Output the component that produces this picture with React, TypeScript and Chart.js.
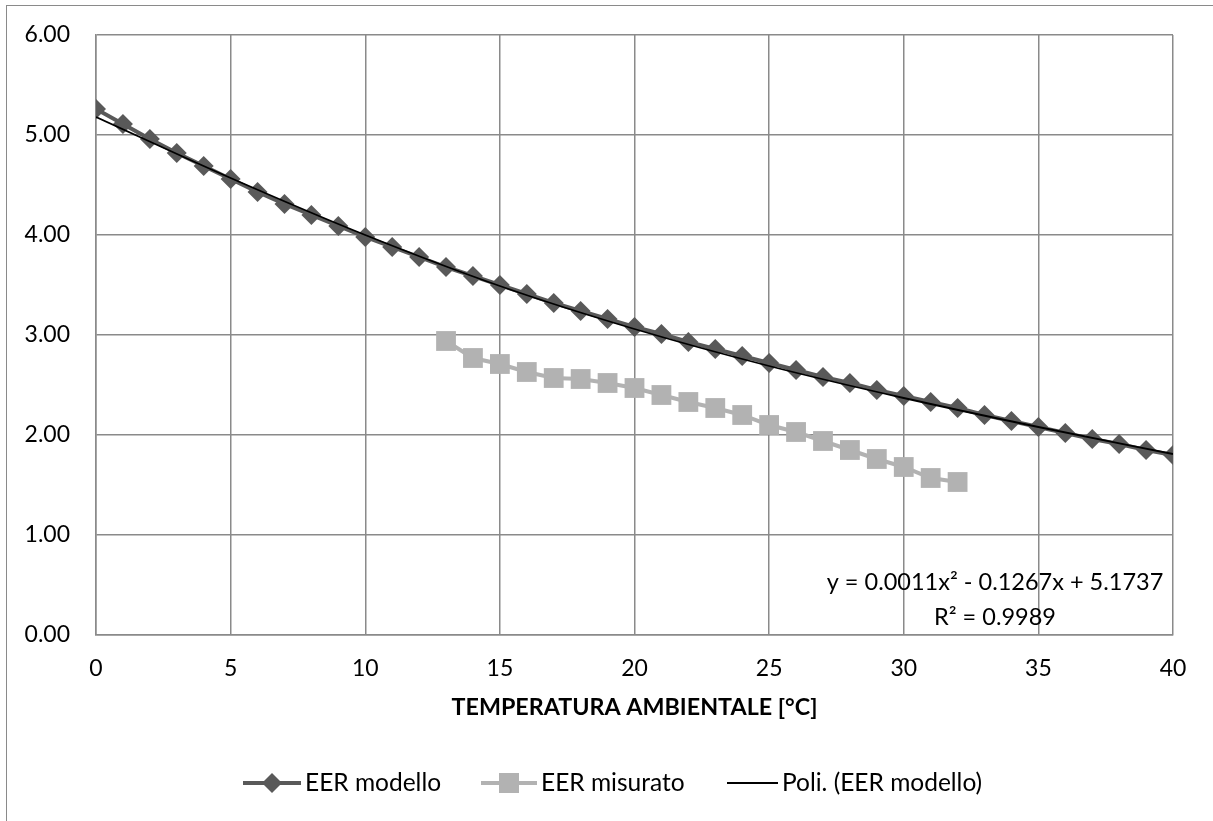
import React, { useEffect, useRef } from "react";
import { Chart, registerables } from "chart.js";

Chart.register(...registerables);

// ---- Data ----
const modelloX = [0, 1, 2, 3, 4, 5, 6, 7, 8, 9, 10, 11, 12, 13, 14, 15, 16, 17, 18, 19, 20, 21, 22, 23, 24, 25, 26, 27, 28, 29, 30, 31, 32, 33, 34, 35, 36, 37, 38, 39, 40];
const modelloY = [5.26, 5.11, 4.96, 4.82, 4.69, 4.56, 4.43, 4.31, 4.2, 4.09, 3.98, 3.88, 3.78, 3.68, 3.59, 3.5, 3.41, 3.32, 3.24, 3.16, 3.08, 3.01, 2.93, 2.86, 2.79, 2.72, 2.65, 2.58, 2.52, 2.45, 2.39, 2.33, 2.27, 2.2, 2.14, 2.08, 2.02, 1.96, 1.91, 1.85, 1.8];

const misuratoX = [13, 14, 15, 16, 17, 18, 19, 20, 21, 22, 23, 24, 25, 26, 27, 28, 29, 30, 31, 32];
const misuratoY = [2.94, 2.77, 2.71, 2.63, 2.57, 2.56, 2.52, 2.47, 2.4, 2.33, 2.27, 2.2, 2.1, 2.03, 1.94, 1.85, 1.76, 1.68, 1.57, 1.53];

const trendX = [0, 5, 10, 15, 20, 25, 30, 35, 40];
const trendY = [5.18, 4.57, 4.0, 3.49, 3.06, 2.69, 2.37, 2.08, 1.81];

const legendLabels = ["EER modello", "EER misurato", "Poli. (EER modello)"];
const equationLines = ["y = 0.0011x² - 0.1267x + 5.1737", "R² = 0.9989"];
const xAxisTitle = "TEMPERATURA AMBIENTALE [°C]";

const xMin = 0;
const xMax = 40;
const xStep = 5;
const yMin = 0;
const yMax = 6;
const yStep = 1;

// ---- Styles ----
const FONT = "Lato, 'Open Sans', sans-serif";
const GRID = "#8a8a8a";
const C_MODELLO = "#595959";
const C_MISURATO = "#b2b2b2";
const C_TREND = "#000000";

const W = 1213;
const H = 821;

const extrasPlugin = {
  id: "extras",
  afterDraw(chart: any) {
    const ctx = chart.ctx;
    const area = chart.chartArea;
    ctx.save();
    // equation label
    ctx.fillStyle = "#000";
    ctx.font = `23.5px ${FONT}`;
    ctx.textAlign = "center";
    ctx.textBaseline = "middle";
    const cx = area.right - 178;
    ctx.fillText(equationLines[0], cx, area.bottom - 53);
    ctx.fillText(equationLines[1], cx, area.bottom - 18);

    // legend
    const ly = chart.height - 38;
    const items = [
      { x0: 243, x1: 301, color: C_MODELLO, width: 4, marker: "diamond", label: legendLabels[0] },
      { x0: 481, x1: 537, color: C_MISURATO, width: 4, marker: "square", label: legendLabels[1] },
      { x0: 727, x1: 778, color: C_TREND, width: 1.8, marker: "none", label: legendLabels[2] },
    ];
    for (const it of items) {
      ctx.strokeStyle = it.color;
      ctx.lineWidth = it.width;
      ctx.beginPath();
      ctx.moveTo(it.x0, ly);
      ctx.lineTo(it.x1, ly);
      ctx.stroke();
      const mx = (it.x0 + it.x1) / 2;
      ctx.fillStyle = it.color;
      if (it.marker === "diamond") {
        const r = 10;
        ctx.beginPath();
        ctx.moveTo(mx - r, ly);
        ctx.lineTo(mx, ly - r);
        ctx.lineTo(mx + r, ly);
        ctx.lineTo(mx, ly + r);
        ctx.closePath();
        ctx.fill();
      } else if (it.marker === "square") {
        const s = 10;
        ctx.fillRect(mx - s, ly - s, 2 * s, 2 * s);
      }
      ctx.fillStyle = "#000";
      ctx.textAlign = "left";
      ctx.textBaseline = "middle";
      ctx.font = `24.5px ${FONT}`;
      ctx.fillText(it.label, it.x1 + 4, ly);
    }
    ctx.restore();
  },
};

export default function App() {
  const canvasRef = useRef<HTMLCanvasElement | null>(null);

  useEffect(() => {
    if (!canvasRef.current) return;
    const modello = modelloX.map((x, i) => ({ x, y: modelloY[i] }));
    const misurato = misuratoX.map((x, i) => ({ x, y: misuratoY[i] }));
    const trend = trendX.map((x, i) => ({ x, y: trendY[i] }));

    const chart = new Chart(canvasRef.current, {
      type: "line",
      data: {
        datasets: [
          {
            label: legendLabels[2],
            data: trend,
            borderColor: C_TREND,
            borderWidth: 1.8,
            pointRadius: 0,
            cubicInterpolationMode: "monotone",
            fill: false,
            order: 0,
          },
          {
            label: legendLabels[1],
            data: misurato,
            borderColor: C_MISURATO,
            backgroundColor: C_MISURATO,
            borderWidth: 4,
            pointStyle: "rect",
            pointRadius: 14,
            pointBorderWidth: 0,
            fill: false,
            order: 1,
          },
          {
            label: legendLabels[0],
            data: modello,
            borderColor: C_MODELLO,
            backgroundColor: C_MODELLO,
            borderWidth: 4,
            pointStyle: "rectRot",
            pointRadius: 10,
            pointBorderWidth: 0,
            fill: false,
            order: 2,
          },
        ],
      },
      options: {
        responsive: false,
        animation: false,
        parsing: false as any,
        layout: { padding: { left: 0, right: 40, top: 35, bottom: 100 } },
        plugins: {
          legend: { display: false },
          tooltip: { enabled: false },
          title: { display: false },
        },
        font: { family: FONT } as any,
        scales: {
          x: {
            type: "linear",
            min: xMin,
            max: xMax,
            afterFit: (s: any) => {
              s.height = 86;
            },
            ticks: {
              stepSize: xStep,
              color: "#000",
              padding: 20,
              maxRotation: 0,
              font: { family: FONT, size: 23 },
            },
            grid: { color: GRID, lineWidth: 1.5, drawTicks: false },
            border: { color: GRID, width: 1.5 },
            title: {
              display: true,
              text: xAxisTitle,
              color: "#000",
              font: { family: FONT, size: 23.3, weight: "bold" },
              padding: { top: 0, bottom: 0 },
            },
          },
          y: {
            type: "linear",
            min: yMin,
            max: yMax,
            afterFit: (s: any) => {
              s.width = 96;
            },
            ticks: {
              stepSize: yStep,
              color: "#000",
              padding: 0,
              font: { family: FONT, size: 23 },
              callback: (v: any) => Number(v).toFixed(2),
            },
            grid: {
              color: GRID,
              lineWidth: 1.5,
              drawTicks: true,
              tickLength: 26,
              tickColor: "rgba(0,0,0,0)",
            },
            border: { color: GRID, width: 1.5 },
          },
        },
      },
      plugins: [extrasPlugin],
    });
    return () => chart.destroy();
  }, []);

  return (
    <div
      style={{
        position: "absolute",
        left: 0,
        top: 0,
        width: W,
        height: H,
        background: "#fff",
        overflow: "hidden",
      }}
    >
      <div
        style={{
          position: "absolute",
          left: 6,
          top: 5,
          width: W + 20,
          height: H + 20,
          border: "1.5px solid #8a8a8a",
        }}
      />
      <canvas
        ref={canvasRef}
        width={W}
        height={H}
        style={{ position: "absolute", left: 0, top: 0, width: W, height: H }}
      />
    </div>
  );
}
